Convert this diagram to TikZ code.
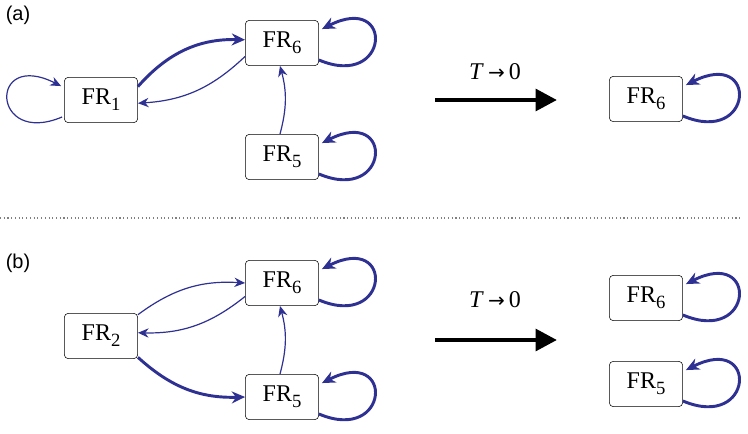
\documentclass[tikz,border=0pt]{standalone}
\usepackage{fontspec}
\setmainfont{Liberation Serif}
\newfontfamily\labfont{Liberation Sans}
\newfontfamily\symfont{DejaVu Sans}
\usetikzlibrary{arrows.meta,calc}
\definecolor{lb}{HTML}{2E3192}
\newcommand{\frl}[1]{FR\raisebox{-0.25em}{\fontsize{14}{16}\selectfont #1}}
\begin{document}
\begin{tikzpicture}[x=0.75pt,y=-0.75pt,
  fr/.style={draw,rounded corners=3pt,minimum width=55pt,minimum height=34pt,font=\fontsize{18}{21}\selectfont,inner sep=0pt},
  thk/.style={draw=lb,line width=2.2pt,-{Stealth[length=10pt,width=9pt]}},
  thn/.style={draw=lb,line width=0.9pt,-{Stealth[length=8pt,width=7pt]}},
  big/.style={line width=3.5pt,-{Triangle[length=16pt,width=16pt]}},
  lab/.style={font=\labfont\fontsize{15}{18}\selectfont},
  tl/.style={font=\fontsize{18}{21}\selectfont}]
\useasboundingbox (0,0) rectangle (748,434);
\node[lab] (la) at (18,15) {(a)};
\node[lab] (lb2) at (18,263) {(b)};
\draw[dotted,line width=0.8pt,gray] (0,218) -- (740,218);
% (a)
\node[fr] (a1) at (101,100) {\frl{1}};
\node[fr] (a6) at (282,43) {\frl{6}};
\node[fr] (a5) at (282,157) {\frl{5}};
\node[fr] (ar6) at (646,99) {\frl{6}};
\draw[thk] (a1.20) to[bend left=25] (a6.175);
\draw[thn] (a6.-160) to[bend left=20] (a1.-5);
\draw[thn] (a5.95) to[bend right=15] (a6.-95);
\draw[thn] ($(a1.west)+(-2,17)$) .. controls +(-71,30) and +(-73,-37) .. ($(a1.north west)+(-3,9)$);
\foreach \n in {a6,a5,ar6}{\draw[thk] ($(\n.east)+(0,17)$) .. controls +(71,30) and +(73,-37) .. ($(\n.north east)+(3,9)$);}
\coordinate (s1) at (435,100); \coordinate (e1) at (557,100);
\draw[big] (s1) -- (e1);
\node[tl] (t1) at (495,72) {\textit{T}\,{\symfont\fontsize{15}{18}\selectfont →}\,0};
% (b)
\node[fr] (b2) at (101,336) {\frl{2}};
\node[fr] (b6) at (282,283) {\frl{6}};
\node[fr] (b5) at (282,397) {\frl{5}};
\node[fr] (br6) at (646,298) {\frl{6}};
\node[fr] (br5) at (646,384) {\frl{5}};
\draw[thn] (b2.30) to[bend left=20] (b6.180);
\draw[thn] (b6.-160) to[bend left=20] (b2.5);
\draw[thk] (b2.-30) to[bend right=22] (b5.180);
\draw[thn] (b5.95) to[bend right=15] (b6.-95);
\foreach \n in {b6,b5,br6,br5}{\draw[thk] ($(\n.east)+(0,17)$) .. controls +(71,30) and +(73,-37) .. ($(\n.north east)+(3,9)$);}
\coordinate (s2) at (435,340); \coordinate (e2) at (557,340);
\draw[big] (s2) -- (e2);
\node[tl] (t2) at (495,300) {\textit{T}\,{\symfont\fontsize{15}{18}\selectfont →}\,0};
\end{tikzpicture}
\end{document}
